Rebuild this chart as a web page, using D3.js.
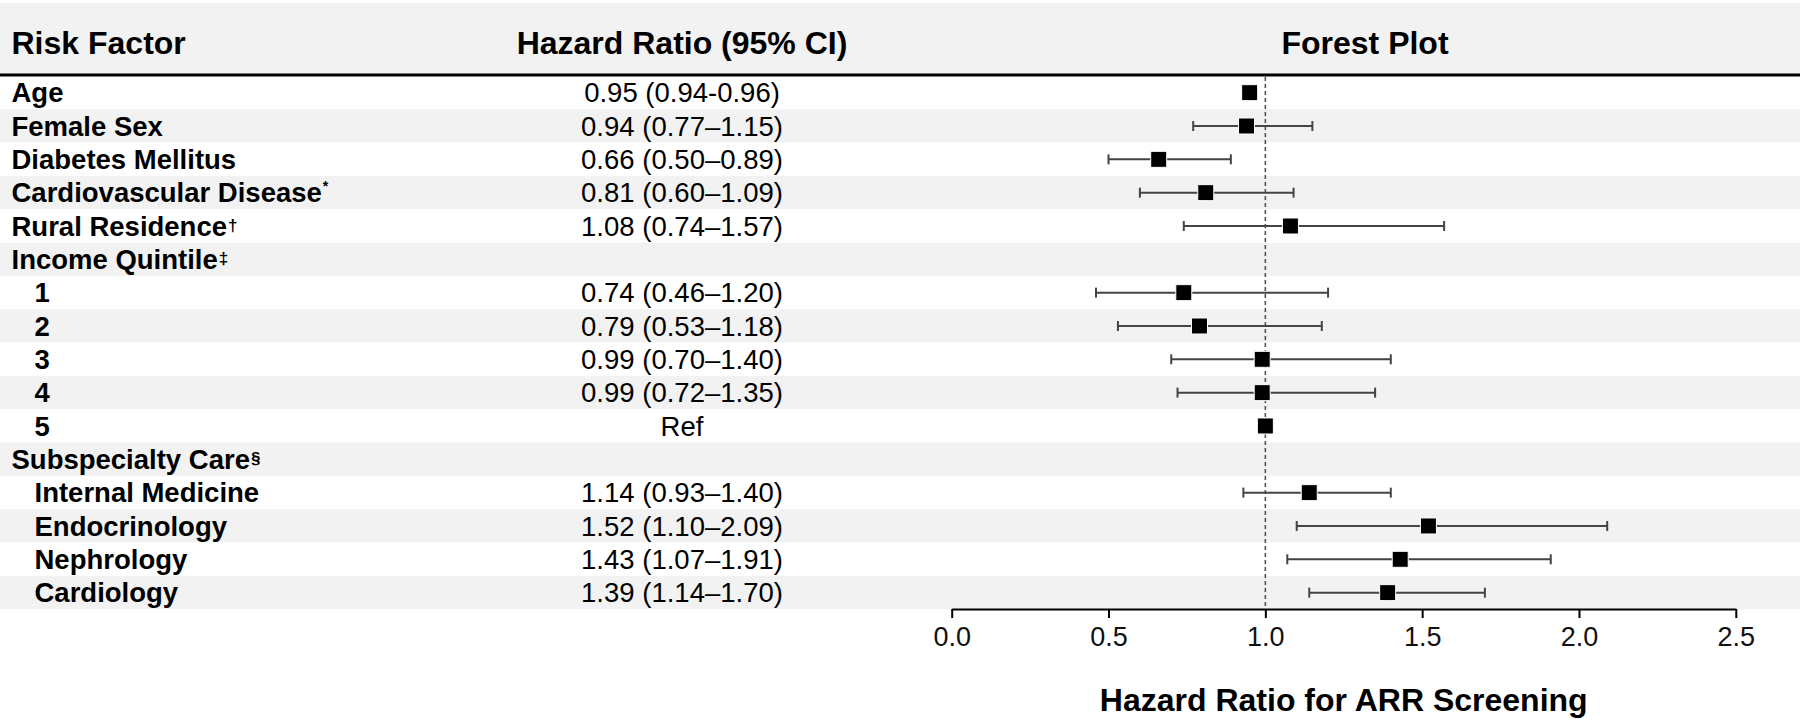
<!DOCTYPE html>
<html>
<head>
<meta charset="utf-8">
<script src="https://cdn.jsdelivr.net/npm/d3@7"></script>
<style>
  html, body { margin: 0; padding: 0; background: #ffffff; }
  svg { display: block; font-family: "Liberation Sans", Arial, Helvetica, sans-serif; }
</style>
</head>
<body>
<svg id="chart" width="1800" height="721"></svg>
<script>
// ---- Data ----
const labels = ["Age", "Female Sex", "Diabetes Mellitus", "Cardiovascular Disease", "Rural Residence",
  "Income Quintile", "1", "2", "3", "4", "5", "Subspecialty Care",
  "Internal Medicine", "Endocrinology", "Nephrology", "Cardiology"];
const footMarks = ["", "", "", "*", "†", "‡", "", "", "", "", "", "§", "", "", "", ""];
const indented = [0, 0, 0, 0, 0, 0, 1, 1, 1, 1, 1, 0, 1, 1, 1, 1];
const hr = [0.95, 0.94, 0.66, 0.81, 1.08, null, 0.74, 0.79, 0.99, 0.99, 1.00, null, 1.14, 1.52, 1.43, 1.39];
const ciLow = [0.94, 0.77, 0.50, 0.60, 0.74, null, 0.46, 0.53, 0.70, 0.72, null, null, 0.93, 1.10, 1.07, 1.14];
const ciHigh = [0.96, 1.15, 0.89, 1.09, 1.57, null, 1.20, 1.18, 1.40, 1.35, null, null, 1.40, 2.09, 1.91, 1.70];
const hrText = ["0.95 (0.94-0.96)", "0.94 (0.77–1.15)", "0.66 (0.50–0.89)", "0.81 (0.60–1.09)",
  "1.08 (0.74–1.57)", "", "0.74 (0.46–1.20)", "0.79 (0.53–1.18)", "0.99 (0.70–1.40)",
  "0.99 (0.72–1.35)", "Ref", "", "1.14 (0.93–1.40)", "1.52 (1.10–2.09)", "1.43 (1.07–1.91)", "1.39 (1.14–1.70)"];
const xTicks = [0.0, 0.5, 1.0, 1.5, 2.0, 2.5];
const headers = ["Risk Factor", "Hazard Ratio (95% CI)", "Forest Plot"];
const xTitle = "Hazard Ratio for ARR Screening";
const refValue = 1.0;

// ---- Layout ----
const W = 1800;
const svg = d3.select("#chart");
const rows = d3.range(labels.length);
const y = d3.scaleBand().domain(rows).range([76, 609.3]).padding(0);
const x = d3.scaleLinear().domain([0, 2.5]).range([951.7, 1735.8]);
const bodyFont = 27.5;
const band = "#f2f2f2";

// header band
svg.append("rect").attr("x", 0).attr("y", 3).attr("width", W).attr("height", 72).attr("fill", band);

// row bands
svg.append("g").selectAll("rect").data(rows).join("rect")
  .attr("x", 0).attr("y", d => y(d)).attr("width", W).attr("height", y.bandwidth())
  .attr("fill", d => d % 2 === 1 ? band : "#ffffff");

// header line
svg.append("line").attr("x1", 0).attr("x2", W).attr("y1", 75).attr("y2", 75)
  .attr("stroke", "#000").attr("stroke-width", 3);

// headers
const hx = [11.5, 682, 1365];
const ha = ["start", "middle", "middle"];
svg.append("g").selectAll("text").data(headers).join("text")
  .attr("x", (d, i) => hx[i]).attr("y", 54).attr("text-anchor", (d, i) => ha[i])
  .attr("font-size", 32).attr("font-weight", "bold").attr("fill", "#000").text(d => d);

// row labels
const lab = svg.append("g").selectAll("text").data(rows).join("text")
  .attr("x", d => indented[d] ? 34.5 : 11.5)
  .attr("y", d => y(d) + y.bandwidth() / 2 + bodyFont * 0.35)
  .attr("font-size", bodyFont).attr("font-weight", "bold").attr("fill", "#000");
lab.append("tspan").text(d => labels[d]);
lab.filter(d => footMarks[d] !== "").append("tspan")
  .attr("font-size", d => footMarks[d] === "*" ? 14 : 17)
  .attr("dy", d => footMarks[d] === "*" ? -11 : -5)
  .attr("dx", 1)
  .text(d => footMarks[d]);

// HR text
svg.append("g").selectAll("text").data(rows).join("text")
  .attr("x", 682).attr("y", d => y(d) + y.bandwidth() / 2 + bodyFont * 0.35)
  .attr("text-anchor", "middle").attr("font-size", bodyFont).attr("fill", "#000")
  .text(d => hrText[d]);

// reference line
svg.append("line").attr("x1", x(refValue)).attr("x2", x(refValue)).attr("y1", 77).attr("y2", 609)
  .attr("stroke", "#555").attr("stroke-width", 1.6).attr("stroke-dasharray", "4,3");

// CI whiskers
const ciRows = rows.filter(d => ciLow[d] !== null && ciHigh[d] !== null);
const cy = d => y(d) + y.bandwidth() / 2;
const gci = svg.append("g").attr("stroke", "#444").attr("stroke-width", 2);
gci.selectAll("line.ci").data(ciRows).join("line").attr("class", "ci")
  .attr("x1", d => x(ciLow[d])).attr("x2", d => x(ciHigh[d])).attr("y1", cy).attr("y2", cy);
gci.selectAll("line.capl").data(ciRows).join("line").attr("class", "capl")
  .attr("x1", d => x(ciLow[d])).attr("x2", d => x(ciLow[d])).attr("y1", d => cy(d) - 5).attr("y2", d => cy(d) + 5);
gci.selectAll("line.caph").data(ciRows).join("line").attr("class", "caph")
  .attr("x1", d => x(ciHigh[d])).attr("x2", d => x(ciHigh[d])).attr("y1", d => cy(d) - 5).attr("y2", d => cy(d) + 5);

// points
const sq = 16;
svg.append("g").selectAll("rect").data(rows.filter(d => hr[d] !== null)).join("rect")
  .attr("x", d => x(hr[d]) - sq / 2).attr("y", d => cy(d) - sq / 2)
  .attr("width", sq).attr("height", sq)
  .attr("fill", "#000").attr("stroke", "#fff").attr("stroke-width", 1);

// axis
const axis = d3.axisBottom(x).tickValues(xTicks).tickFormat(d3.format(".1f"))
  .tickSizeOuter(0).tickSizeInner(9).tickPadding(9);
const gAxis = svg.append("g").attr("transform", "translate(0,609)").call(axis);
gAxis.select(".domain").attr("stroke", "#000").attr("stroke-width", 2);
gAxis.selectAll(".tick line").attr("stroke", "#000").attr("stroke-width", 2);
gAxis.selectAll(".tick text").attr("font-size", 27).attr("fill", "#111")
  .attr("font-family", "'Liberation Sans', Arial, sans-serif");

// axis title
svg.append("text").attr("x", (x(0) + x(2.5)) / 2).attr("y", 711)
  .attr("text-anchor", "middle").attr("font-size", 32).attr("font-weight", "bold").attr("fill", "#000")
  .text(xTitle);
</script>
</body>
</html>
